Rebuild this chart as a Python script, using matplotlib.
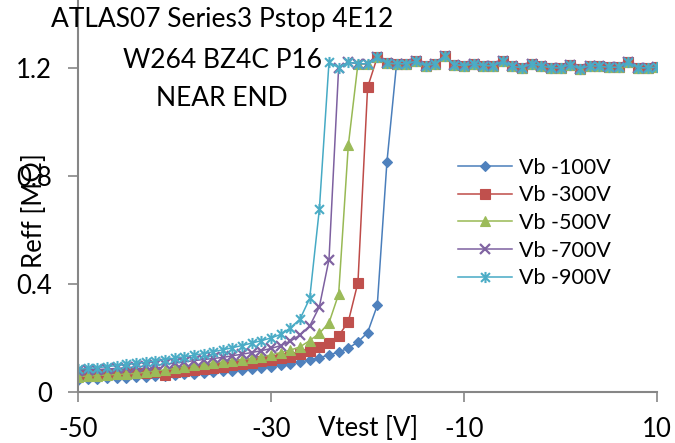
import matplotlib
matplotlib.use("Agg")
import matplotlib.pyplot as plt
from matplotlib.path import Path

plt.rcParams['font.family'] = ['Lato', 'DejaVu Sans']
plt.rcParams['axes.unicode_minus'] = False

# Vtest steps of 1 V from -50 to 10
vtest = list(range(-50, 11))

# values (MOhm), below the breakdown
low_100 = [0.045, 0.047, 0.049, 0.050, 0.052, 0.053, 0.055, 0.057, 0.058, 0.060,
           0.062, 0.065, 0.068, 0.070, 0.073, 0.076, 0.079, 0.082, 0.085, 0.088,
           0.093, 0.099, 0.105, 0.111, 0.118, 0.127, 0.137, 0.148, 0.162, 0.185,
           0.22, 0.32, 0.85]
low_300 = [0.066, 0.066, 0.067, 0.068, 0.069, 0.070, 0.071, 0.072, 0.073, 0.064,
           0.075, 0.078, 0.081, 0.085, 0.089, 0.094, 0.099, 0.104, 0.109, 0.114,
           0.119, 0.125, 0.131, 0.140, 0.150, 0.165, 0.182, 0.208, 0.26, 0.405,
           1.127]
low_500 = [0.057, 0.059, 0.061, 0.063, 0.065, 0.067, 0.069, 0.073, 0.078, 0.082,
           0.087, 0.093, 0.099, 0.103, 0.107, 0.111, 0.116, 0.120, 0.124, 0.130,
           0.137, 0.146, 0.155, 0.167, 0.19, 0.217, 0.256, 0.362, 0.912]
low_700 = [0.079, 0.081, 0.083, 0.085, 0.087, 0.090, 0.093, 0.096, 0.099, 0.103,
           0.107, 0.111, 0.116, 0.120, 0.124, 0.128, 0.134, 0.140, 0.146, 0.153,
           0.161, 0.172, 0.188, 0.211, 0.244, 0.315, 0.49]
low_900 = [0.084, 0.087, 0.090, 0.094, 0.098, 0.102, 0.106, 0.110, 0.115, 0.120,
           0.125, 0.130, 0.136, 0.142, 0.149, 0.156, 0.164, 0.172, 0.181, 0.190,
           0.200, 0.213, 0.237, 0.270, 0.346, 0.676]

# saturated plateau, common to all series, from Vtest = -24 to 10
plateau = [1.22, 1.20, 1.22, 1.214, 1.214, 1.238, 1.216, 1.214, 1.214, 1.223,
           1.207, 1.214, 1.244, 1.211, 1.207, 1.214, 1.207, 1.207, 1.223, 1.205,
           1.199, 1.214, 1.207, 1.199, 1.199, 1.211, 1.195, 1.207, 1.205, 1.201,
           1.201, 1.22, 1.199, 1.199, 1.201]

labels = ['Vb -100V', 'Vb -300V', 'Vb -500V', 'Vb -700V', 'Vb -900V']
lows = [low_100, low_300, low_500, low_700, low_900]
line_colors = ['#4A7EBB', '#BE4B48', '#98B954', '#7D60A0', '#46AAC5']
mark_colors = ['#4F81BD', '#C0504D', '#9BBB59', '#8064A2', '#4BACC6']

# excel style star: an x with a vertical bar
star = Path([(-1, -1), (1, 1), (-1, 1), (1, -1), (0, -1.25), (0, 1.25)],
            [Path.MOVETO, Path.LINETO, Path.MOVETO, Path.LINETO, Path.MOVETO, Path.LINETO])
markers = ['D', 's', '^', 'x', star]
msizes = [5.2, 6.8, 7.5, 6.5, 8]
mews = [0.8, 0.8, 0.8, 1.6, 1.5]

fig = plt.figure(figsize=(6.75, 4.43), dpi=100)
ax = fig.add_axes([0.1156, 0.1151, 0.858, 0.885])

for i in range(5):
    y = lows[i] + plateau[len(lows[i]) + len(plateau) - len(vtest):]
    ax.plot(vtest, y, color=line_colors[i], lw=1.1, marker=markers[i],
            ms=msizes[i], mfc=mark_colors[i], mec=mark_colors[i], mew=mews[i],
            label=labels[i])

ax.set_xlim(-50, 10)
ax.set_ylim(0, 1.45)
ax.set_xticks([-50, -30, -10, 10])
ax.set_yticks([0, 0.4, 0.8, 1.2])
ax.set_yticklabels(['0', '0.4', '0.8', '1.2'])
for s in ['top', 'right']:
    ax.spines[s].set_visible(False)
for s in ['left', 'bottom']:
    ax.spines[s].set_color('#868686')
    ax.spines[s].set_linewidth(1.5)
ax.tick_params(axis='both', direction='out', length=7, width=1.2,
               color='#868686', labelsize=18.5)
ax.tick_params(axis='y', pad=12)
ax.tick_params(axis='x', pad=11)

ax.set_xlabel('Vtest [V]', fontsize=18.5)
ax.xaxis.label.set_va('center')
ax.xaxis.set_label_coords(0.5, -0.094)
ax.set_ylabel('Reff [M\u03a9]', fontsize=18.5)
ax.yaxis.label.set_va('center')
ax.yaxis.set_label_coords(-0.076, 0.464)

fig.text(0.329, 1 - 20 / 443, 'ATLAS07 Series3 Pstop 4E12', fontsize=19,
         ha='center', va='center')
fig.text(0.329, 1 - 61 / 443, 'W264 BZ4C P16', fontsize=19, ha='center', va='center')
fig.text(0.329, 1 - 98 / 443, 'NEAR END', fontsize=19, ha='center', va='center')

ax.legend(loc='center left', bbox_to_anchor=(458 / 675, 1 - 223 / 443),
          bbox_transform=fig.transFigure, frameon=False, fontsize=15.5,
          handlelength=2.5, handletextpad=0.35, labelspacing=0.35,
          borderpad=0, borderaxespad=0)

fig.savefig('out.png', dpi=100)
